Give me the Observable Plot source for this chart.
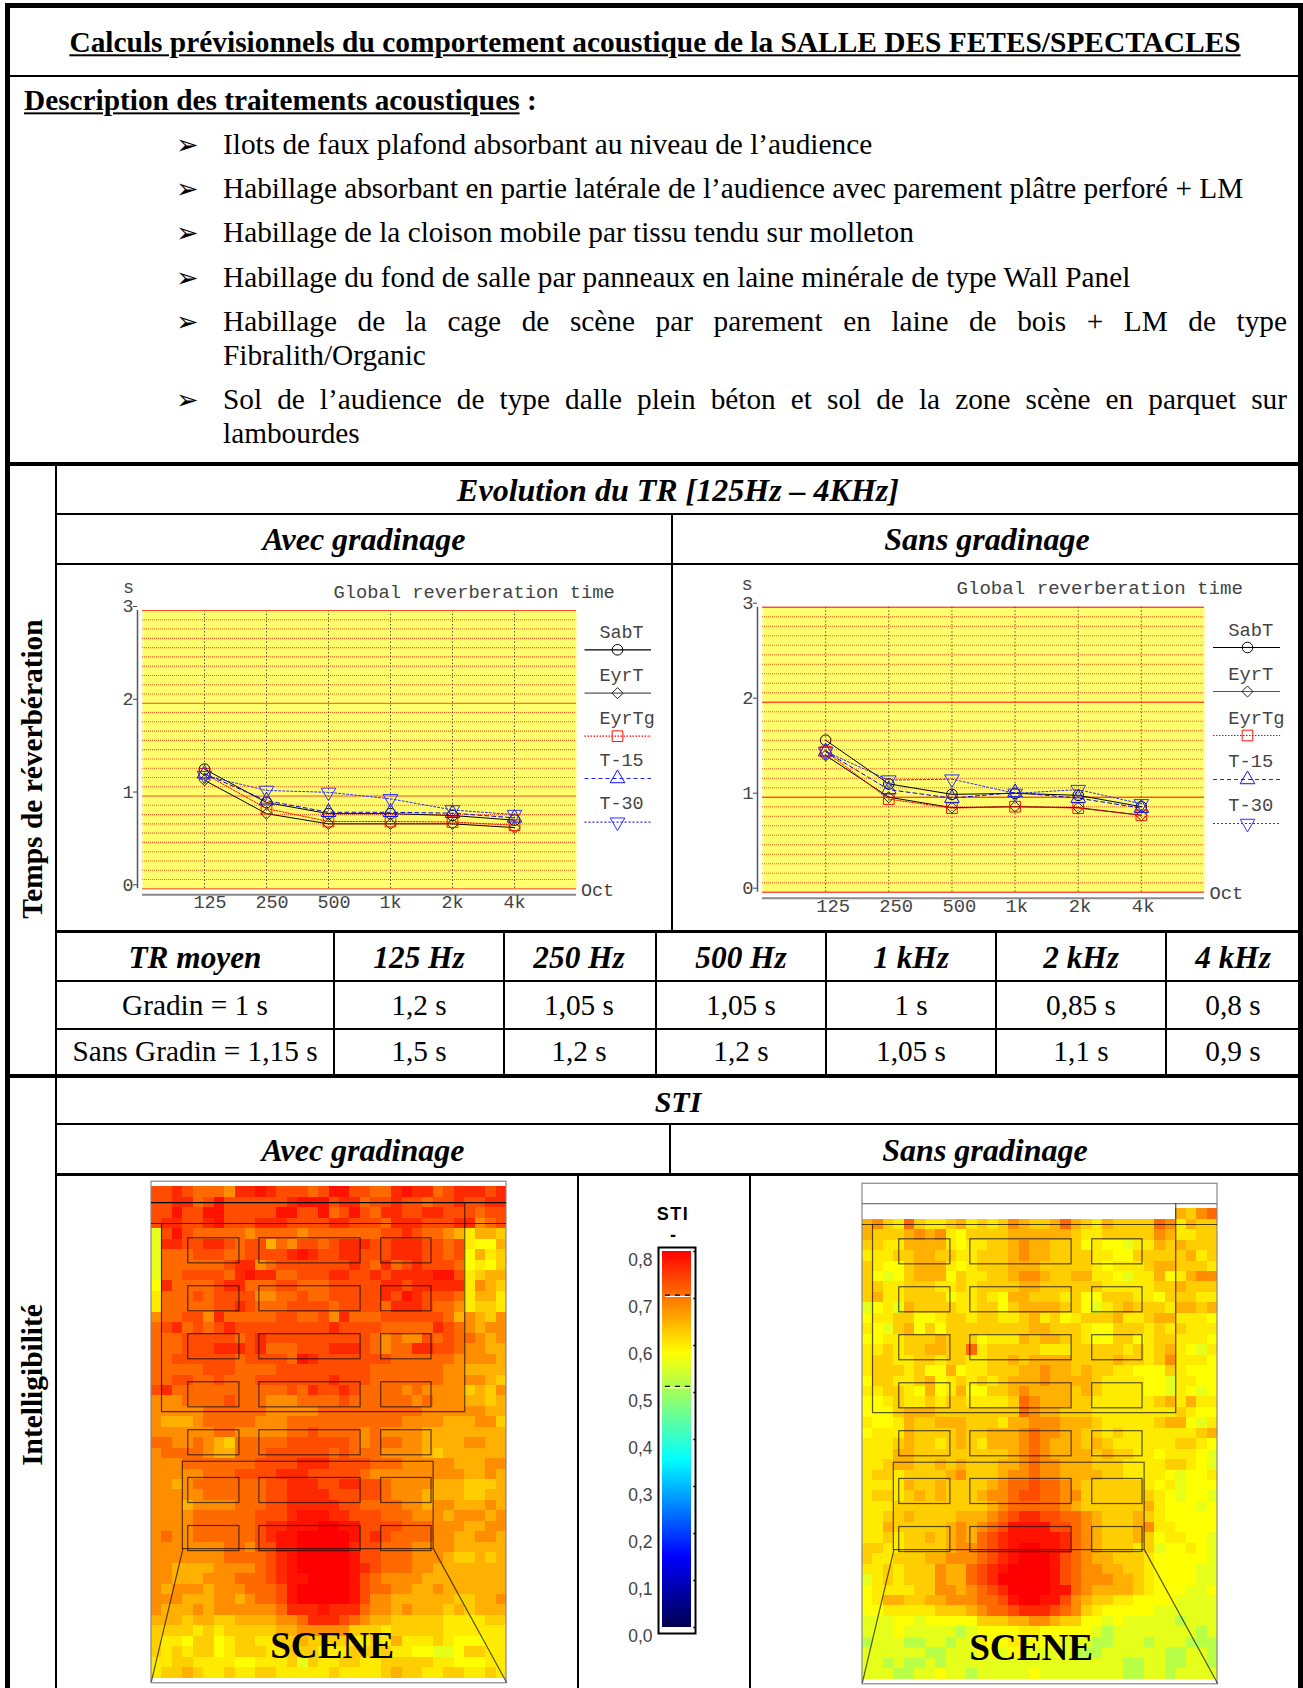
<!DOCTYPE html>
<html lang="fr"><head><meta charset="utf-8">
<script src="https://cdn.jsdelivr.net/npm/d3@7"></script>
<script src="https://cdn.jsdelivr.net/npm/@observablehq/plot@0.6"></script>
<style>
html,body{margin:0;padding:0;background:#fff;overflow:hidden}
#page{position:relative;width:1303px;height:1688px;overflow:hidden;font-family:"Liberation Serif",serif;color:#000}
#page div.t{position:absolute;white-space:nowrap;line-height:1}
#page div.b{position:absolute;background:#000}
</style></head><body><div id="page"></div>
<script>
// ---------- chart values ----------
const freqLabels=["125","250","500","1k","2k","4k"];
const seriesNames=["SabT","EyrT","EyrTg","T-15","T-30"];
const avecSabT =[1.29,0.93,0.81,0.81,0.79,0.74];
const avecEyrT =[1.17,0.81,0.70,0.70,0.70,0.66];
const avecEyrTg=[1.24,0.865,0.725,0.725,0.72,0.685];
const avecT15  =[1.24,0.95,0.825,0.825,0.815,0.765];
const avecT30  =[1.22,1.06,1.04,0.97,0.85,0.80];
const sansSabT =[1.60,1.14,1.03,1.04,1.02,0.90];
const sansEyrT =[1.44,1.00,0.89,0.90,0.89,0.81];
const sansEyrTg=[1.48,0.98,0.885,0.90,0.885,0.81];
const sansT15  =[1.48,1.08,0.99,1.05,0.99,0.885];
const sansT30  =[1.48,1.18,1.19,1.04,1.08,0.93];
const tableHead=["TR moyen","125 Hz","250 Hz","500 Hz","1 kHz","2 kHz","4 kHz"];
const tableRow1=["Gradin = 1 s","1,2 s","1,05 s","1,05 s","1 s","0,85 s","0,8 s"];
const tableRow2=["Sans Gradin = 1,15 s","1,5 s","1,2 s","1,2 s","1,05 s","1,1 s","0,9 s"];
const stiStops=[0,0.15,0.356,0.583,0.8];
const stiColors=["#000050","#0000ff","#00ffff","#ffff00","#ff0000"];
const stiTicks=[0,0.1,0.2,0.3,0.4,0.5,0.6,0.7,0.8];
const stiThresholds=[0.513,0.707];
// STI level read for each heat-map cell, one symbol per cell
const stiLevels={"0":0.52,"1":0.56,"2":0.583,"3":0.6,"4":0.625,"5":0.65,"6":0.68,"7":0.71,"8":0.735,"9":0.765,"a":0.785,"b":0.8};
const heatAvecRows=[
"8898777699 a988878aa8 8779a99789 9989",
"889978a888 8889aaa899 7889887889 8899",
"88a88aa888 88aa88a78a 8799889988 8788",
"899889a888 9998888998 8879998889 9678",
"18a8777776 7777677777 7788987765 3554",
"1998899878 8576887899 9889998878 3225",
"1777888778 8889a98899 8889998878 2534",
"1777777899 6788888889 8797898887 2324",
"177888879a 9977888998 8989999aa8 3455",
"2977778997 7788777888 8899899999 3654",
"3777878888 6677877888 8898a98887 3553",
"3777778898 7778888788 8879998776 3443",
"6778869777 7788778697 7788888875 6546",
"7897878988 8888888988 8877777987 6566",
"7778888878 9888888888 8767668787 7656",
"7778889998 9777888999 8767799887 6655",
"7788888878 8887a98888 8887777776 6665",
"7777788877 7788888888 8777777766 5555",
"7788778777 8888888988 8777777766 6654",
"8977777777 7778798898 7777676666 4546",
"6667777877 7666777787 7777767666 5545",
"6666677777 7666667777 7777776666 6655",
"6555677777 6667777777 7777666655 5664",
"6666667766 6667787777 6766665555 5555",
"7766765477 7778888887 6777665555 6655",
"6777765577 7888888787 7766665455 5555",
"6667777777 8888999888 8777666665 5566",
"6666677788 8899988888 7666666666 5565",
"6656777777 7889998899 8876666555 4445",
"6666677777 7889999888 8876665555 4455",
"6665666677 7889999988 7777665665 5565",
"6666777777 8889aaa998 8877766656 6656",
"6666777777 899aaabbaa 8888777666 5566",
"6766777777 89aabbbbba 8987777665 5665",
"6666666776 88aabbbbb9 8877766665 5555",
"6666666777 789abbbbba 8877766654 4545",
"6655556666 789abbbbba 9877766555 5555",
"6655566677 789aabbbba 8766665555 5555",
"6566656667 778abbbbba 8776655655 5555",
"6665556656 778abbbbba 8665555554 4556",
"6555656666 667999a999 7665655545 4555",
"5554554455 5566799987 6554444433 3344",
"4444343444 4455666664 4434444433 3333",
"4332442344 3344544443 3435333432 2233",
"4343442344 4334443334 4443322112 4433",
"3344333322 3334143344 3344444332 2233",
"3445433433 4433333433 3345443344 3343"];
const heatSansRows=[
".......... .......... .......... ....",
".......... .......... .......... ....",
".......... .......... .......... 5467",
"5643743345 3434654457 5435444476 3544",
"5444565632 4444555555 4334444465 3344",
"4433555532 3344565544 4232213354 5444",
"3334455443 3444565544 4433224444 4534",
"4322455532 3444555444 4432333455 4443",
"4212455524 3344566544 5533213352 3566",
"4433444334 3444455444 4443333344 5444",
"4533444423 3432554443 4224443324 4433",
"1231544443 3442455554 4213454443 5545",
"2334422344 3443345342 3444533455 3332",
"3214524244 4444445544 4322444343 4333",
"2233444544 4233354554 4322442344 3332",
"3343445544 7344444333 4444434345 3213",
"3443344344 3344545555 4444544346 3332",
"3444342252 3344455655 4544332224 3222",
"2443345234 3434555655 5543333221 3322",
"3344325235 2244565555 4543333221 3212",
"2234334344 3333476555 4433333345 3533",
"2224555444 4444476554 4433333333 4322",
"3223544555 4443556665 5543333345 5213",
"2333544445 4455567665 5443433333 3345",
"3334544345 4355567655 5454333333 4432",
"3335544444 4444567655 5545443323 3321",
"3345544545 4445567665 5544433334 4321",
"3443444456 4445667665 5554433332 1223",
"3333544544 4456778776 5444444323 1222",
"3443454544 4566788776 6444444432 1221",
"3334444444 4456777776 5444444532 2212",
"3344544445 5567899887 7654445432 2222",
"3354444456 5678aaaa88 7654445633 2222",
"3343445456 5789aaaaa9 7654445423 3221",
"4433444456 6789abbaa9 7654443412 2321",
"4334445566 6789abbba8 7655444322 2221",
"3343444655 789abbbba8 7665544322 2211",
"1343444655 789bbbbba8 7666554322 2211",
"2333344665 6789bbbbaa 7655554322 2112",
"2355445566 6778abbaa8 6544332222 1111",
"2233333444 5677899987 6432222211 1111",
"1112212222 2444556654 4221211111 0111",
"1112111110 1222233222 2210111111 1101",
"0111001101 1322322221 1100111011 1000",
"1111110011 1221211111 0001111110 0110",
"1101001011 1111111111 1111100110 0110",
"1110011211 0111112111 1111100110 1111"];
// ceiling islands and room outline, in heat-map cell units
const islandCols=[[3.52,8.42],[10.33,20.03],[22,26.82]];
const islandRows=[4.91,9.5,14.09,18.69,23.28,27.85,32.45];
const islandDepth=2.4;
const balconyOutline=[[0.96,3.5],[0.96,21.5],[30,21.5],[30,1.5]];
const stageBox=[3,26.3,27.02,34.66];
const leftWing=[[3,34.66],[0,47.3]];
const rightWing=[[27.02,34.66],[34,47.4]];
const bullets=[
 ["Ilots de faux plafond absorbant au niveau de l\u2019audience"],
 ["Habillage absorbant en partie lat\u00e9rale de l\u2019audience avec parement pl\u00e2tre perfor\u00e9 + LM"],
 ["Habillage de la cloison mobile par tissu tendu sur molleton"],
 ["Habillage du fond de salle par panneaux en laine min\u00e9rale de type Wall Panel"],
 ["Habillage de la cage de sc\u00e8ne par parement en laine de bois + LM de type","Fibralith/Organic"],
 ["Sol de l\u2019audience de type dalle plein b\u00e9ton et sol de la zone sc\u00e8ne en parquet sur","lambourdes"]];

// ---------- page furniture ----------
const page=document.getElementById("page");
function T(s,x,y,o={}){const d=document.createElement("div");d.className="t";d.textContent=s;
 const a=o.align||"left";d.style.left=x+"px";d.style.top=y+"px";
 d.style.fontSize=(o.size||29.3)+"px";if(o.weight)d.style.fontWeight=o.weight;if(o.italic)d.style.fontStyle="italic";
 if(o.underline){d.style.textDecoration="underline";}
 if(o.font)d.style.fontFamily=o.font;
 if(o.spacing)d.style.letterSpacing=o.spacing+"px";
 d.style.transform=(a==="center"?"translate(-50%,-50%)":"translateY(-50%)")+(o.rotate?` rotate(${o.rotate}deg)`:"");
 if(o.width){d.style.width=o.width+"px";d.style.textAlign="justify";d.style.textAlignLast="justify";d.style.whiteSpace="normal";}
 page.append(d);return d;}
function H(y,t,x0=5,x1=1303){const d=document.createElement("div");d.className="b";d.style.cssText=`left:${x0}px;top:${y}px;width:${x1-x0}px;height:${t}px`;page.append(d);}
function V(x,t,y0,y1){const d=document.createElement("div");d.className="b";d.style.cssText=`left:${x}px;top:${y0}px;width:${t}px;height:${y1-y0}px`;page.append(d);}
H(3,5);V(5,5,3,1688);V(1298,5,3,1688);H(75,2);H(462,4);H(513,1.5,55);H(563,1.5,55);H(930,3,55);H(980,1.5,55);H(1028,1.5,55);H(1074,4);H(1123,1.5,55);H(1173,2.5,55);
V(55,1.5,464,1688);V(671,1.5,514,930);V(333,1.5,930,1074);V(503,1.5,930,1074);V(655,1.5,930,1074);V(825,1.5,930,1074);V(995,1.5,930,1074);V(1165,1.5,930,1074);
V(669,1.5,1124,1174);V(577,1.5,1174,1688);V(749,1.5,1174,1688);

T("Calculs pr\u00e9visionnels du comportement acoustique de la SALLE DES FETES/SPECTACLES",655,43,{align:"center",size:29.4,weight:"bold",underline:true});
T("Description des traitements acoustiques",24,101,{size:29.3,weight:"bold",underline:true});
T(":",527,101,{size:29.3,weight:"bold"});
const rowY=[145,189,233,278,322,356,400,434];let ri=0;
bullets.forEach(b=>{T("\u27a2",176,rowY[ri]-1.5,{size:27,font:"DejaVu Sans"});
 b.forEach((l,i)=>{T(l,223,rowY[ri],b.length>1&&i===0?{width:1064}:{});ri++;});});
T("Temps de r\u00e9verb\u00e9ration",33,769,{align:"center",rotate:-90,size:29.4,weight:"bold"});
T("Intelligibilit\u00e9",33,1385,{align:"center",rotate:-90,size:29.4,weight:"bold"});
const H2={align:"center",size:32,weight:"bold",italic:true};
T("Evolution du TR [125Hz \u2013 4KHz]",678,490,H2);T("Avec gradinage",364,539,H2);T("Sans gradinage",987,539,H2);
T("STI",678,1102,{...H2,size:30});T("Avec gradinage",363,1150,H2);T("Sans gradinage",985,1150,H2);
const colX=[195,419,579,741,911,1081,1233];
tableHead.forEach((s,i)=>T(s,colX[i],958,{...H2,size:31.3}));
tableRow1.forEach((s,i)=>T(s,colX[i],1006,{align:"center"}));
tableRow2.forEach((s,i)=>T(s,colX[i],1052,{align:"center"}));

function place(node,x,y){node.style.position="absolute";node.style.left=x+"px";node.style.top=y+"px";page.append(node);}
const baseStyle={background:"none",overflow:"visible",fontFamily:"Liberation Mono",fontSize:"18px",color:"#444"};

// ---------- reverberation charts ----------
const seriesStyle={
 "SabT":{stroke:"#000",dash:null,symbol:"circle",r:5.3,mark:"#000",legend:"#000"},
 "EyrT":{stroke:"#000",dash:null,symbol:"diamond2",r:5,mark:"#222",legend:"#555"},
 "EyrTg":{stroke:"#ff0000",dash:"1.5 1.5",symbol:"square2",r:6.8,mark:"#ff1000",legend:"#ff0000"},
 "T-15":{stroke:"#0000ee",dash:"4 3",symbol:"triangle2",r:7,mark:"#1010f0",legend:"#2020ff"},
 "T-30":{stroke:"#2a2aff",dash:"2 2",symbol:"triangle2",r:7,mark:"#3030ff",rotate:180,legend:"#2a2aff"}};
function revChart(values,g){
 const rows=seriesNames.flatMap((n,k)=>values[k].map((v,i)=>({name:n,i:i+1,v})));
 const minor=d3.range(1,30).filter(d=>d%10).map(d=>d/10);
 const style={...baseStyle,fontSize:g.fs+"px"};
 const marks=[
  Plot.frame({fill:"#ffff6e",stroke:null}),
  Plot.ruleY(minor,{stroke:g.minor,strokeWidth:1.1,strokeDasharray:"1 1",strokeOpacity:.9}),
  Plot.ruleX([1,2,3,4,5,6],{stroke:"#222",strokeDasharray:"1.5 2",strokeOpacity:.75}),
  Plot.ruleY([0,1,2,3],{stroke:g.major,strokeWidth:1}),
  Plot.ruleX([0],{y1:0,y2:3,dx:-5,stroke:"#555",strokeWidth:1.5}),
  Plot.ruleY([0],{x1:0,x2:7,dy:6,stroke:"#888",strokeWidth:2}),
  Plot.axisY({ticks:[0,1,2,3],tickSize:4,tickPadding:0,dx:-5,dy:-4,label:null,tickFormat:d=>d}),
  Plot.axisX({ticks:[1,2,3,4,5,6],tickSize:0,tickPadding:6,dx:g.tickDx,textAnchor:"start",label:null,tickFormat:i=>freqLabels[i-1]})
 ];
 seriesNames.forEach(n=>{const s=seriesStyle[n],d=rows.filter(r=>r.name===n);
  marks.push(Plot.line(d,{x:"i",y:"v",stroke:s.stroke,strokeWidth:1,strokeDasharray:s.dash}));
  marks.push(Plot.dot(d,{x:"i",y:"v",symbol:()=>s.symbol,r:s.r,stroke:s.mark,strokeWidth:1,fill:"none",rotate:s.rotate||0}));
 });
 const W=g.w,Ht=g.h;
 const svg=Plot.plot({width:W,height:Ht,marginLeft:g.x0,marginRight:W-g.x1,marginTop:g.yT,marginBottom:Ht-g.yB,
  x:{domain:[0,7],axis:null},y:{domain:[0,3],axis:null},symbol:{type:"identity"},style,marks});
 place(svg,g.left,g.top);
 // labels and legend, placed in the panel's own pixel frame
 const legend=seriesNames.map((n,k)=>({n,...seriesStyle[n],ty:g.legendText[k],ly:g.legendLine[k]}));
 const ann=Plot.plot({width:W,height:Ht,margin:0,x:{domain:[0,W],axis:null},y:{domain:[0,Ht],reverse:true,axis:null},symbol:{type:"identity"},style,marks:[
  Plot.text(["Global reverberation time"],{x:g.titleX,y:g.titleY,textAnchor:"start",fontSize:g.titleFs,fill:"#444"}),
  Plot.text(["s"],{x:g.sX,y:g.sY,fill:"#444"}),
  Plot.text(["Oct"],{x:g.octX,y:g.octY,textAnchor:"start",fill:"#444"}),
  Plot.text(legend,{x:g.legTextX,y:"ty",text:"n",textAnchor:"start",fill:"#444"}),
  ...legend.map(l=>Plot.ruleY([l.ly],{x1:g.legX1,x2:g.legX2,stroke:l.legend,strokeWidth:1.2,strokeDasharray:l.dash})),
  ...legend.map(l=>Plot.dot([l],{x:g.legMarkX,y:"ly",symbol:()=>l.symbol,r:l.r,stroke:l.mark,strokeWidth:1,fill:"none",rotate:l.rotate||0}))
 ]});
 place(ann,g.left,g.top);
}
revChart([avecSabT,avecEyrT,avecEyrTg,avecT15,avecT30],{left:60,top:570,w:605,h:355,x0:82,x1:516,yT:40,yB:318.3,fs:18.4,titleFs:18.75,
 minor:"#ff4a10",major:"#ff4a20",tickDx:-11,titleX:273,titleY:21,sX:68,sY:17,octX:520.5,octY:320,
 legTextX:539,legX1:524.5,legX2:591,legMarkX:557,legendText:[61.7,104.3,147.7,190,233],legendLine:[79.3,122.7,165.7,208,251.7]});
revChart([sansSabT,sansEyrT,sansEyrTg,sansT15,sansT30],{left:676,top:570,w:620,h:355,x0:86,x1:528,yT:36.7,yB:321.7,fs:18.8,titleFs:19.1,
 minor:"#ff4a10",major:"#ff0000",tickDx:-9.5,titleX:280,titleY:17,sX:70.7,sY:13,octX:533,octY:322.7,
 legTextX:551.7,legX1:537,legX2:604,legMarkX:571,legendText:[59,103,147.7,190.5,234.5],legendLine:[77,121,165,209,253]});

// ---------- STI heat maps ----------
const colorOpt={type:"linear",domain:stiStops,range:stiColors};
function heat(rowsText,g){
 const cells=[];rowsText.forEach((r,y)=>{[...r.replace(/ /g,"")].forEach((c,x)=>{if(c!==".")cells.push({x,y,v:stiLevels[c]});});});
 const islands=islandRows.flatMap(r=>islandCols.map(c=>({x1:c[0],x2:c[1],y1:r,y2:r+islandDepth})));
 const ink={stroke:"#000",strokeOpacity:.65,strokeWidth:1.2};
 const svg=Plot.plot({width:357,height:512,margin:0,marginLeft:1,marginRight:1,
  x:{domain:[0,34],axis:null},y:{domain:[-1,48],reverse:true,axis:null},color:colorOpt,style:baseStyle,marks:[
  Plot.rect(cells,{x1:"x",x2:d=>d.x+1,y1:"y",y2:d=>d.y+1,fill:"v",shapeRendering:"crispEdges"}),
  Plot.rect([{x1:0,x2:34,y1:g.outerTop,y2:47.5}],{x1:"x1",x2:"x2",y1:"y1",y2:"y2",fill:"none",stroke:"#888",strokeWidth:1.2}),
  Plot.ruleY([1.5],{x1:g.line1From,x2:34,stroke:g.line1,strokeWidth:1.1}),
  Plot.ruleY([3.5],{x1:0,x2:34,stroke:"#000",strokeOpacity:.7,strokeWidth:1.1}),
  Plot.line(balconyOutline,{x:d=>d[0],y:d=>d[1],...ink}),
  Plot.rect(islands,{x1:"x1",x2:"x2",y1:"y1",y2:"y2",fill:"none",...ink}),
  Plot.rect([stageBox],{x1:d=>d[0],y1:d=>d[1],x2:d=>d[2],y2:d=>d[3],fill:"none",...ink}),
  Plot.line(leftWing,{x:d=>d[0],y:d=>d[1],...ink}),
  Plot.line(rightWing,{x:d=>d[0],y:d=>d[1],...ink}),
  Plot.text(["SCENE"],{x:g.sceneX,y:g.sceneY,fill:"#000",fontFamily:"Liberation Serif",fontWeight:"bold",fontSize:37.2})
 ]});
 place(svg,g.left,g.top);
}
heat(heatAvecRows,{left:149.7,top:1175.5,outerTop:-0.5,line1:"#000",line1From:0,sceneX:17.3,sceneY:43.9});
heat(heatSansRows,{left:861,top:1176.5,outerTop:-0.4,line1:"#777",line1From:0,sceneX:16.15,sceneY:44});

// ---------- STI colour bar ----------
const barValues=d3.range(0,800).map(d=>d/1000);
const bar=Plot.plot({width:90,height:450,marginLeft:42,marginRight:19,marginTop:51,marginBottom:23,
 x:{domain:[0,1],axis:null},y:{domain:[0,0.8],axis:null},color:colorOpt,
 style:{...baseStyle,fontFamily:"Liberation Sans",fontSize:"17.5px"},marks:[
  Plot.rect(barValues,{x1:0,x2:1,y1:d=>d,y2:d=>d+0.001,fill:d=>d,shapeRendering:"crispEdges"}),
  Plot.frame({insetLeft:-4,insetRight:-4,insetTop:-4,insetBottom:-6,stroke:"#000",strokeWidth:2}),
  Plot.ruleY(stiThresholds,{x1:0.1,x2:0.98,stroke:"#fff",strokeWidth:1.2,dy:1.2}),
  Plot.ruleY(stiThresholds,{x1:0.1,x2:0.98,stroke:"#000",strokeWidth:1.2,strokeDasharray:"5 5"}),
  Plot.ruleY(stiTicks,{x1:1.08,x2:1.15,stroke:"#000",strokeWidth:1.5}),
  Plot.axisY({ticks:stiTicks,tickSize:0,tickPadding:10,dy:9,label:null,tickFormat:d=>d.toFixed(1).replace(".",",")})
 ]});
place(bar,620,1200);
T("STI",673,1214,{align:"center",size:18,weight:"bold",font:"Liberation Sans",spacing:1.5});
T("-",673,1235,{align:"center",size:18,weight:"bold",font:"Liberation Sans"});
</script></body></html>
